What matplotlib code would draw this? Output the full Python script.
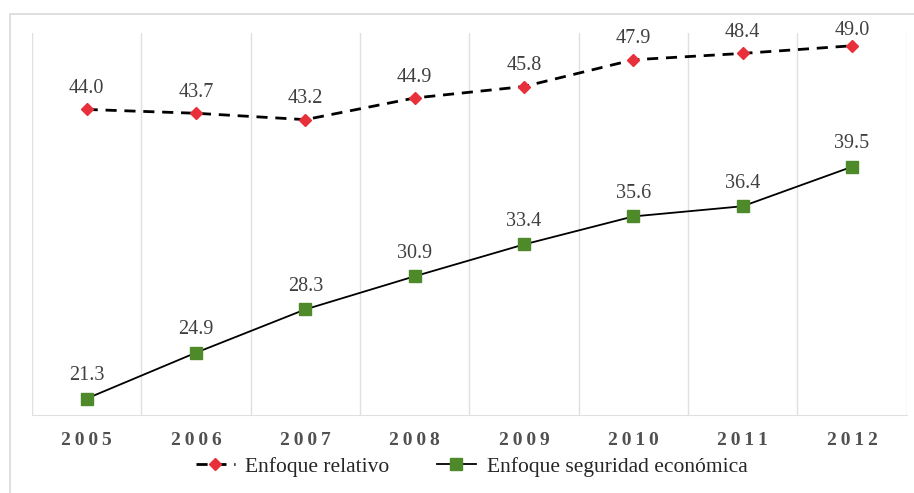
import matplotlib
matplotlib.use('Agg')
import matplotlib.pyplot as plt
from matplotlib.patches import Rectangle

# datos
anios = ['2005', '2006', '2007', '2008', '2009', '2010', '2011', '2012']
relativo = [44.0, 43.7, 43.2, 44.9, 45.8, 47.9, 48.4, 49.0]
seguridad = [21.3, 24.9, 28.3, 30.9, 33.4, 35.6, 36.4, 39.5]

plt.rcParams['font.family'] = ['Liberation Serif', 'DejaVu Serif']

fig = plt.figure(figsize=(9.14, 4.93), dpi=100)
ax = fig.add_axes([0.035, 0.158, 0.957, 0.775])

# marco exterior gris
fig.patches.append(Rectangle((10 / 914, -0.1), 1.2, 1 - 14 / 493 + 0.1, transform=fig.transFigure,
                             fill=False, edgecolor='#d9d9d9', linewidth=1.2))

x = range(len(anios))
ax.plot(x, relativo, color='black', linestyle=(0, (4, 2.8)), linewidth=2.0,
        marker='D', markersize=6, markerfacecolor='#e8303a', markeredgecolor='#e8303a',
        label='Enfoque relativo', zorder=3)
ax.plot(x, seguridad, color='black', linewidth=1.3,
        marker='s', markersize=9, markerfacecolor='#4e8a2a', markeredgecolor='#4e8a2a',
        label='Enfoque seguridad económica', zorder=3)

# etiquetas de valores (la de arriba del todo se baja un poco para no salirse)
for i in x:
    off = 15 if relativo[i] < 48.8 else 11
    ax.annotate(f'{relativo[i]:.1f}', (i, relativo[i]), xytext=(0, off), textcoords='offset points',
                ha='center', va='center', fontsize=14.5, color='#404040')
    ax.annotate(f'{seguridad[i]:.1f}', (i, seguridad[i]), xytext=(0, 16.5), textcoords='offset points',
                ha='center', va='center', fontsize=14.5, color='#404040')

ax.set_xlim(-0.5, len(anios) - 0.5)
ax.set_ylim(20, 50)

# lineas verticales entre categorias
for b in [i - 0.5 for i in range(len(anios) + 1)]:
    ax.axvline(b, color='#e0e0e0', linewidth=1.0, zorder=0)

ax.set_xticks(list(x))
ax.set_xticklabels(['\u2009'.join(a) for a in anios], fontsize=14, fontweight='bold', color='#505050')
ax.tick_params(axis='x', length=0, pad=12)
ax.set_yticks([])
for s in ['top', 'left', 'right']:
    ax.spines[s].set_visible(False)
ax.spines['bottom'].set_color('#e0e0e0')

fig.legend(loc='center', bbox_to_anchor=(0.516, 0.053), ncol=2, frameon=False,
           fontsize=15.5, handlelength=1.8, columnspacing=2.2, handletextpad=0.5,
           labelcolor='#262626')

plt.savefig('out.png', dpi=100)
